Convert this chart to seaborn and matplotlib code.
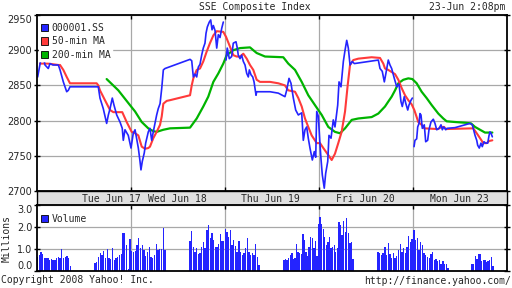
import numpy as np
import pandas as pd
import matplotlib
matplotlib.use("Agg")
import matplotlib.pyplot as plt
from matplotlib.patches import Patch
import seaborn as sns

# ---------------- data (time in trading-chart days, 0..5) ----------------
blue_t = [0.007, 0.043, 0.067, 0.085, 0.120, 0.138, 0.170, 0.227, 0.245, 0.280, 0.316, 0.333, 0.351,
          0.635, 0.652, 0.670, 0.705, 0.741, 0.759, 0.777, 0.801, 0.819, 0.848, 0.883, 0.907, 0.918,
          0.936, 0.971, 1.000, 1.024, 1.043, 1.078, 1.096, 1.106, 1.120, 1.141, 1.156, 1.184, 1.202,
          1.220, 1.237, 1.255, 1.273, 1.290, 1.309, 1.327, 1.344, 1.362, 1.628, 1.646, 1.663, 1.681,
          1.699, 1.716, 1.734, 1.752, 1.769, 1.787, 1.798, 1.812, 1.833, 1.848, 1.862, 1.876, 1.894,
          1.912, 1.929, 1.947, 1.965, 1.982,
          2.011, 2.024, 2.046, 2.071, 2.088, 2.117, 2.131, 2.141, 2.160, 2.177, 2.195, 2.213, 2.231,
          2.248, 2.259, 2.277, 2.295, 2.309, 2.330, 2.337, 2.479, 2.567, 2.638, 2.656, 2.681, 2.702,
          2.727, 2.752, 2.780, 2.816, 2.833, 2.851, 2.869, 2.886, 2.904, 2.929, 2.950, 2.965, 2.976,
          2.993, 3.011, 3.021, 3.035, 3.056, 3.071, 3.093, 3.106, 3.128, 3.152, 3.170, 3.199, 3.213,
          3.234, 3.259, 3.277, 3.295, 3.312, 3.330, 3.354, 3.376, 3.631, 3.649, 3.673, 3.695, 3.713,
          3.737, 3.755, 3.773, 3.801, 3.827, 3.851, 3.872, 3.886, 3.907, 3.922, 3.944, 3.957, 3.979,
          3.993,
          4.011, 4.021, 4.039, 4.050, 4.064, 4.074, 4.085, 4.099, 4.120, 4.135, 4.156, 4.170, 4.191,
          4.216, 4.234, 4.252, 4.277, 4.298, 4.312, 4.327, 4.348, 4.362, 4.447, 4.553, 4.606, 4.631,
          4.660, 4.678, 4.688, 4.705, 4.723, 4.737, 4.755, 4.773, 4.795, 4.809, 4.819, 4.830, 4.844]
blue_p = [2862, 2888, 2891, 2879, 2874, 2881, 2879, 2879, 2872, 2855, 2841, 2843, 2848,
          2848, 2848, 2832, 2817, 2796, 2808, 2817, 2832, 2822, 2808, 2798, 2789, 2772,
          2787, 2779, 2761, 2782, 2787, 2761, 2742, 2730, 2742, 2754, 2768, 2784, 2789,
          2772, 2784, 2796, 2808, 2817, 2824, 2846, 2872, 2874, 2887, 2885, 2862, 2866,
          2862, 2876, 2880, 2893, 2903, 2910, 2924, 2933, 2940, 2943, 2929, 2935, 2928,
          2903, 2922, 2918, 2931, 2940,
          2886, 2903, 2888, 2891, 2910, 2912, 2903, 2893, 2888, 2893, 2884, 2879, 2867,
          2862, 2872, 2865, 2862, 2855, 2836, 2841, 2841, 2839, 2834, 2843, 2860, 2853,
          2832, 2815, 2808, 2811, 2772, 2787, 2791, 2775, 2761, 2744, 2756, 2748, 2813,
          2806, 2765, 2746, 2723, 2704, 2725, 2742, 2779, 2775, 2801, 2791, 2822, 2855,
          2848, 2884, 2900, 2914, 2903, 2879, 2884, 2881, 2886, 2874, 2870, 2855, 2868,
          2886, 2879, 2874, 2860, 2848, 2852, 2827, 2820, 2834, 2825, 2815, 2822, 2829,
          2832,
          2763, 2772, 2774, 2791, 2796, 2810, 2808, 2789, 2794, 2770, 2772, 2787, 2798,
          2802, 2796, 2787, 2789, 2794, 2787, 2791, 2787, 2789, 2790, 2794, 2796, 2794,
          2779, 2772, 2765, 2761, 2768, 2763, 2770, 2768, 2768, 2779, 2784, 2782, 2777]
blue_breaks = [2.0, 4.0]   # data feed breaks (day boundaries with no connecting line)

ma50_t = [0.032, 0.117, 0.227, 0.245, 0.280, 0.316, 0.351, 0.635, 0.652, 0.670, 0.723, 0.777, 0.812,
          0.907, 0.954, 1.007, 1.043, 1.078, 1.114, 1.149, 1.184, 1.202, 1.237, 1.273, 1.309, 1.327,
          1.344, 1.380, 1.415, 1.628, 1.646, 1.663, 1.699, 1.734, 1.769, 1.805, 1.840, 1.876, 1.912,
          1.982, 2.011, 2.053, 2.088, 2.124, 2.160, 2.195, 2.231, 2.266, 2.301, 2.337, 2.372, 2.479,
          2.567, 2.638, 2.673, 2.745, 2.780, 2.816, 2.851, 2.886, 2.922, 2.976, 3.011, 3.046, 3.099,
          3.135, 3.170, 3.205, 3.241, 3.277, 3.305, 3.330, 3.365, 3.418, 3.560, 3.649, 3.684, 3.702,
          3.737, 3.773, 3.809, 3.844, 3.880, 3.915, 3.950, 3.986, 4.014, 4.039, 4.056, 4.092, 4.120,
          4.266, 4.305, 4.330, 4.351, 4.641, 4.678, 4.713, 4.748, 4.784, 4.809, 4.844]
ma50_p = [2881, 2881, 2879, 2879, 2872, 2862, 2853, 2853, 2850, 2843, 2829, 2815, 2812,
          2812, 2798, 2784, 2782, 2779, 2763, 2760, 2761, 2763, 2775, 2784, 2794, 2806,
          2824, 2828, 2829, 2836, 2850, 2860, 2872, 2874, 2884, 2898, 2910, 2921, 2927,
          2926, 2919, 2905, 2893, 2891, 2891, 2895, 2888, 2879, 2872, 2858, 2855, 2855,
          2853, 2850, 2843, 2841, 2832, 2820, 2803, 2791, 2779, 2768, 2768, 2761, 2751,
          2744, 2753, 2768, 2784, 2813, 2850, 2879, 2886, 2888, 2890, 2889, 2881, 2874,
          2872, 2869, 2866, 2858, 2846, 2836, 2829, 2823, 2815, 2805, 2798, 2794, 2789,
          2788, 2791, 2791, 2788, 2789, 2782, 2775, 2768, 2768, 2771, 2772]

ma200_t = [0.741, 0.865, 0.989, 1.043, 1.114, 1.184, 1.237, 1.273, 1.344, 1.415, 1.628, 1.699, 1.769,
           1.822, 1.876, 1.929, 1.982, 2.018, 2.088, 2.160, 2.266, 2.301, 2.337, 2.426, 2.620, 2.673,
           2.745, 2.816, 2.886, 2.957, 3.029, 3.099, 3.170, 3.223, 3.277, 3.348, 3.418, 3.560, 3.631,
           3.702, 3.737, 3.773, 3.809, 3.844, 3.897, 3.950, 3.993, 4.039, 4.092, 4.145, 4.199, 4.269,
           4.322, 4.358, 4.447, 4.553, 4.617, 4.660, 4.713, 4.766, 4.844]
ma200_p = [2859, 2843, 2822, 2813, 2798, 2789, 2785, 2784, 2787, 2789, 2790, 2803, 2820,
           2834, 2855, 2867, 2881, 2893, 2900, 2903, 2904, 2900, 2896, 2891, 2890, 2881,
           2872, 2855, 2836, 2822, 2808, 2791, 2784, 2782, 2789, 2801, 2803, 2805, 2810,
           2820, 2827, 2834, 2843, 2853, 2858, 2860, 2859, 2853, 2841, 2832, 2822, 2810,
           2803, 2799, 2798, 2797, 2796, 2791, 2787, 2783, 2783]

# volume sessions (start, end in days) and volumes (millions)
vol_sessions = [(0.005, 0.356), (0.617, 1.362), (1.628, 2.362), (2.628, 3.362), (3.628, 4.372), (4.628, 4.851)]
vol_1 = [0.65, 0.73, 0.88, 0.76, 0.61, 0.58, 0.61, 0.5, 0.55, 0.5, 0.5, 0.58, 0.65, 0.58, 1.0, 0.61, 0.65, 0.7, 0.61, 0.24]
vol_2 = [0.38, 0.4, 0.65, 0.8, 0.75, 0.9, 0.6, 1.0, 0.6, 0.55, 1.05, 0.5, 0.6, 0.65, 0.75, 0.78, 1.75, 1.72, 1.2, 0.1,
         1.45, 0.9, 0.88, 0.9, 1.2, 1.5, 1.05, 1.2, 0.95, 0.7, 0.85, 1.1, 0.65, 0.6, 0.75, 1.25, 0.95, 1.0, 1.0, 1.95, 0.95]
vol_3 = [1.38, 1.82, 1.1, 0.88, 1.03, 0.76, 0.8, 1.1, 1.33, 1.03, 1.86, 2.09, 1.48, 1.71, 1.41, 1.1, 1.1, 1.21, 1.67, 1.36,
         1.36, 1.91, 1.79, 1.56, 1.86, 1.18, 1.41, 1.14, 0.88, 1.36, 0.88, 0.73, 0.8, 1.03, 1.48, 0.85, 0.73, 0.8, 0.73, 1.21,
         0.65, 0.27]
vol_4 = [0.5, 0.55, 0.5, 0.58, 0.73, 0.8, 0.55, 0.61, 1.21, 0.88, 0.8, 0.76, 1.67, 1.41, 0.88, 0.7, 1.1, 1.56, 1.48, 1.06,
         1.36, 0.7, 2.12, 2.47, 2.12, 1.91, 1.56, 1.18, 1.33, 1.56, 1.06, 1.1, 1.18, 0.88, 1.06, 2.21, 2.09, 1.64, 2.27, 1.79,
         2.39, 1.71, 1.26, 1.33, 0.55]
vol_5 = [0.88, 0.83, 0.73, 0.8, 1.1, 0.73, 1.26, 0.76, 0.58, 0.83, 0.61, 0.68, 0.95, 1.21, 0.88, 1.03, 0.8, 1.1, 1.61, 1.33,
         1.45, 1.86, 1.41, 1.48, 0.95, 1.3, 1.18, 0.8, 0.73, 0.65, 0.58, 0.76, 0.88, 0.5, 0.55, 0.45, 0.5, 0.3, 0.45, 0.3,
         0.3, 0.15]
vol_6 = [0.3, 0.3, 0.7, 0.55, 0.76, 0.76, 0.45, 0.5, 0.5, 0.39, 0.45, 0.5, 0.65, 0.24]
vol_lists = [vol_1, vol_2, vol_3, vol_4, vol_5, vol_6]

day_bounds = [1, 2, 3, 4]
day_labels = ["Tue Jun 17", "Wed Jun 18", "Thu Jun 19", "Fri Jun 20", "Mon Jun 23"]
day_label_pos = [0.795, 1.489, 2.484, 3.489, 4.489]
price_ticks = [2700, 2750, 2800, 2850, 2900, 2950]
vol_ticks = [0, 1, 2, 3]
vol_tick_labels = ["0.0", "1.0", "2.0", "3.0"]

BLUE = "#2424ff"
RED = "#ff3a3a"
GREEN = "#00b400"
GRID = "#a8a8a8"

sns.set_theme(style="white")
plt.rcParams["font.family"] = ["DejaVu Sans Mono"]
plt.rcParams["font.size"] = 7

fig = plt.figure(figsize=(5.12, 2.88), dpi=100)
fig.patch.set_facecolor("white")
L, W = 37 / 512, 470 / 512
ax = fig.add_axes([L, 1 - 191 / 288, W, 176 / 288])
strip = fig.add_axes([L, 1 - 205 / 288, W, 14 / 288])
axv = fig.add_axes([L, 1 - 271 / 288, W, 66 / 288])

# ---------------- price panel ----------------
df_blue = pd.DataFrame({"t": blue_t, "p": blue_p})
df_blue["seg"] = np.digitize(df_blue["t"], blue_breaks)
sns.lineplot(x=ma200_t, y=ma200_p, color=GREEN, lw=1.6, ax=ax, sort=False, estimator=None)
sns.lineplot(x=ma50_t, y=ma50_p, color=RED, lw=1.5, ax=ax, sort=False, estimator=None)
sns.lineplot(data=df_blue, x="t", y="p", units="seg", estimator=None, color=BLUE, lw=1.2, ax=ax, sort=False)
ax.set_xlim(0, 5)
ax.set_ylim(2700, 2950)
ax.set_xticks(day_bounds)
ax.set_yticks(price_ticks)
ax.set_yticklabels([str(v) for v in price_ticks], family="DejaVu Sans", fontsize=7)
ax.set_xlabel("")
ax.set_ylabel("")
ax.grid(True, color=GRID, lw=0.9)
ax.tick_params(axis="x", which="both", direction="in", length=3, top=True, bottom=True,
               labelbottom=False, color="black", width=1)
ax.tick_params(axis="y", direction="inout", length=5, left=True, right=True, color="black",
               width=1, pad=1)
for s in ax.spines.values():
    s.set_color("black")
    s.set_linewidth(1.3)
lab = ax.get_yticklabels()
lab[-1].set_va("top")

handles = [Patch(facecolor=BLUE, edgecolor="black", lw=0.6, label="000001.SS"),
           Patch(facecolor=RED, edgecolor="black", lw=0.6, label="50-min MA"),
           Patch(facecolor=GREEN, edgecolor="black", lw=0.6, label="200-min MA")]
leg = ax.legend(handles=handles, loc="upper left", bbox_to_anchor=(0.0, 0.975), frameon=True,
                handlelength=0.75, handleheight=0.75, handletextpad=0.35, labelspacing=0.32,
                borderpad=0.2, borderaxespad=0.2, fontsize=7)
leg.get_frame().set_facecolor("white")
leg.get_frame().set_edgecolor("white")
leg.get_frame().set_alpha(1)
leg.get_frame().set_boxstyle("square", pad=0)

# ---------------- date strip ----------------
strip.set_facecolor("#e0e0e0")
strip.set_xlim(0, 5)
strip.set_ylim(0, 1)
strip.set_xticks([])
strip.set_yticks([])
for s in strip.spines.values():
    s.set_color("black")
    s.set_linewidth(1.0)
for pos, txt in zip(day_label_pos, day_labels):
    strip.text(pos, 0.45, txt, ha="center", va="center", fontsize=7)

# ---------------- volume panel ----------------
for (t0, t1), vols in zip(vol_sessions, vol_lists):
    xs = np.linspace(t0, t1, len(vols))
    axv.bar(xs, vols, width=0.0145, color=BLUE, linewidth=0, align="center")
axv.set_xlim(0, 5)
axv.set_ylim(0, 3)
axv.set_xticks(day_bounds)
axv.set_yticks(vol_ticks)
axv.set_yticklabels(vol_tick_labels, family="DejaVu Sans", fontsize=7)
axv.grid(True, color=GRID, lw=0.9)
axv.set_axisbelow(True)
axv.tick_params(axis="x", which="both", direction="in", length=3, top=True, bottom=False,
                labelbottom=False, color="black", width=1)
axv.tick_params(axis="y", direction="inout", length=5, left=True, right=True, color="black",
                width=1, pad=1)
for s in axv.spines.values():
    s.set_color("black")
    s.set_linewidth(1.3)
vl = axv.get_yticklabels()
vl[0].set_va("bottom")
vl[-1].set_va("top")
axv.set_ylabel("Millions", fontsize=7)
axv.yaxis.set_label_coords(-25 / 470, 0.5)
vleg = axv.legend(handles=[Patch(facecolor=BLUE, edgecolor="black", lw=0.6, label="Volume")],
                  loc="upper left", bbox_to_anchor=(0.0, 0.93), frameon=False,
                  handlelength=0.75, handleheight=0.75, handletextpad=0.35,
                  borderpad=0.2, borderaxespad=0.2, fontsize=7)

# ---------------- header / footer ----------------
fig.text(0.498, 1 - 7 / 288, "SSE Composite Index", ha="center", va="center", fontsize=7)
fig.text(0.987, 1 - 7 / 288, "23-Jun 2:08pm", ha="right", va="center", fontsize=7)
fig.text(0.001, 1 - 280 / 288, "Copyright 2008 Yahoo! Inc.", ha="left", va="center", fontsize=7)
fig.text(0.999, 1 - 281 / 288, "http://finance.yahoo.com/", ha="right", va="center", fontsize=7)

fig.savefig("out.png", dpi=100, facecolor="white")
